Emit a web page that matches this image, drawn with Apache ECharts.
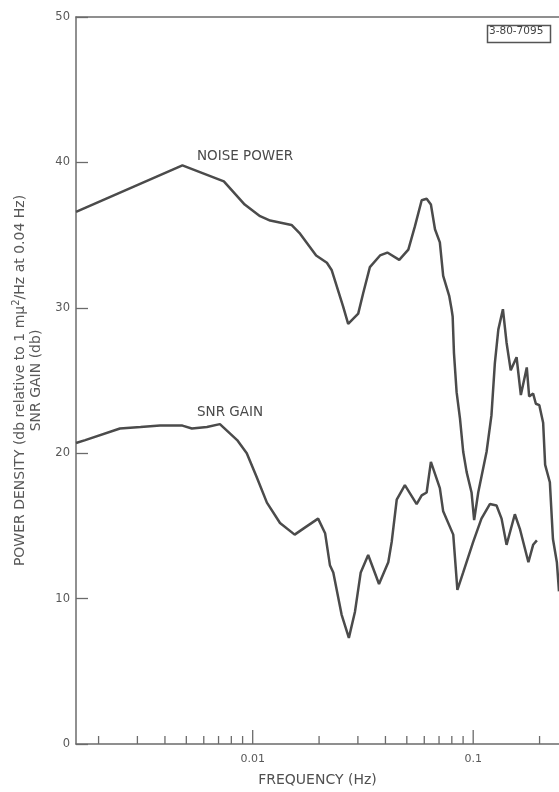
<!DOCTYPE html>
<html>
<head>
<meta charset="utf-8">
<script src="https://cdn.jsdelivr.net/npm/echarts@6/dist/echarts.min.js"></script>
<style>
  html, body { margin: 0; padding: 0; background: #fff; }
  #chart { width: 559px; height: 792px; }
</style>
</head>
<body>
<div id="chart"></div>
<script>
// noise power curve: [frequency (Hz), db]
var noisePower = [
    [0.00158, 36.6], [0.0048, 39.8], [0.0074, 38.7], [0.0092, 37.1], [0.0108, 36.3],
    [0.012, 36.0], [0.015, 35.7], [0.0164, 35.1], [0.0194, 33.6], [0.0217, 33.1],
    [0.0228, 32.6], [0.0257, 30.1], [0.0271, 28.9], [0.0301, 29.6], [0.0317, 31.0],
    [0.034, 32.8], [0.0378, 33.6], [0.0408, 33.8], [0.0462, 33.3], [0.0508, 34.0],
    [0.0544, 35.6], [0.0584, 37.4], [0.0615, 37.5], [0.0643, 37.1], [0.0671, 35.4],
    [0.0706, 34.5], [0.0731, 32.2], [0.0779, 30.8], [0.0798, 29.9], [0.0807, 29.4],
    [0.0818, 26.9], [0.0841, 24.2], [0.0871, 22.4], [0.0901, 20.1], [0.0934, 18.7],
    [0.0983, 17.3], [0.101, 15.4], [0.1054, 17.3], [0.115, 20.1], [0.121, 22.6],
    [0.1254, 26.2], [0.13, 28.5], [0.1364, 29.9], [0.1417, 27.6], [0.148, 25.7],
    [0.1573, 26.6], [0.1645, 24.0], [0.175, 25.9], [0.1794, 23.9], [0.187, 24.1],
    [0.1924, 23.4], [0.1995, 23.3], [0.2076, 22.1], [0.212, 19.2], [0.2227, 18.0],
    [0.23, 14.1], [0.2396, 12.5], [0.245, 10.5]
];

// SNR gain curve: [frequency (Hz), db]
var snrGain = [
    [0.00158, 20.7], [0.00174, 20.9], [0.0025, 21.7], [0.0031, 21.8], [0.0038, 21.9],
    [0.0048, 21.9], [0.0053, 21.7], [0.0062, 21.8], [0.0071, 22.0], [0.0085, 20.9],
    [0.0094, 20.0], [0.0104, 18.4], [0.0116, 16.6], [0.0133, 15.2], [0.0155, 14.4],
    [0.0173, 14.9], [0.0198, 15.5], [0.0213, 14.5], [0.0224, 12.3], [0.0232, 11.8],
    [0.0253, 8.9], [0.0273, 7.3], [0.0291, 9.1], [0.0309, 11.8], [0.0334, 13.0],
    [0.0374, 11.0], [0.0412, 12.5], [0.0427, 13.9], [0.045, 16.8], [0.049, 17.8],
    [0.0554, 16.5], [0.0584, 17.1], [0.0615, 17.3], [0.0643, 19.4], [0.0706, 17.6],
    [0.0731, 16.0], [0.0812, 14.4], [0.0848, 10.6], [0.0901, 11.8], [0.1, 13.9],
    [0.109, 15.5], [0.119, 16.5], [0.1276, 16.4], [0.1345, 15.5], [0.1417, 13.7],
    [0.1545, 15.8], [0.1628, 14.8], [0.178, 12.5], [0.187, 13.7], [0.1945, 14.0]
];

// frequency axis ticks
var freqTicks = [0.002, 0.003, 0.004, 0.005, 0.006, 0.007, 0.008, 0.009, 0.01,
    0.02, 0.03, 0.04, 0.05, 0.06, 0.07, 0.08, 0.09, 0.1, 0.2];
var majorTicks = [0.01, 0.1];
var freqMin = 0.00158;
var freqMax = 0.245;

var lineColor = '#4b4b4b';
var axisColor = '#6b6b6b';
var textColor = '#585858';
var font = 'DejaVu Sans';

var chart = echarts.init(document.getElementById('chart'));
var option = {
    animation: false,
    backgroundColor: '#fff',
    grid: { left: 76, right: 0, top: 17, bottom: 46 },
    xAxis: [{
        type: 'log',
        min: freqMin,
        max: freqMax,
        position: 'bottom',
        name: 'FREQUENCY (Hz)',
        nameLocation: 'middle',
        nameGap: 29,
        nameTextStyle: { color: '#505050', fontSize: 14, fontFamily: font },
        axisLine: { lineStyle: { color: axisColor, width: 1.5 } },
        axisTick: { show: false },
        splitLine: { show: false },
        axisLabel: {
            showMinLabel: false,
            showMaxLabel: false,
            color: textColor,
            fontSize: 11,
            fontFamily: font,
            margin: 10
        }
    }, {
        // top frame line
        type: 'value',
        position: 'top',
        min: 0,
        max: 1,
        axisLine: { show: true, lineStyle: { color: axisColor, width: 1.5 } },
        axisTick: { show: false },
        axisLabel: { show: false },
        splitLine: { show: false }
    }],
    yAxis: {
        type: 'value',
        min: 0,
        max: 50,
        interval: 10,
        name: 'POWER DENSITY (db relative to 1 mμ{sup|2}/Hz at 0.04 Hz)\nSNR GAIN (db)',
        nameLocation: 'middle',
        nameRotate: 90,
        nameGap: 32,
        nameTextStyle: {
            color: textColor,
            fontSize: 14,
            fontFamily: font,
            lineHeight: 16,
            rich: {
                sup: { fontSize: 10, fontFamily: font, color: textColor, padding: [0, 0, 8, 0] }
            }
        },
        axisLine: { show: true, lineStyle: { color: axisColor, width: 1.5 } },
        axisTick: { show: true, inside: true, length: 12, lineStyle: { color: axisColor, width: 1.3 } },
        splitLine: { show: false },
        axisLabel: { color: textColor, fontSize: 11.5, fontFamily: font, margin: 6 }
    },
    graphic: [
        {
            type: 'text', left: 197, top: 149,
            style: { text: 'NOISE POWER', fill: '#4a4a4a', font: '13.5px "DejaVu Sans"' }
        },
        {
            type: 'text', left: 197, top: 405,
            style: { text: 'SNR GAIN', fill: '#4a4a4a', font: '13.5px "DejaVu Sans"' }
        },
        {
            type: 'rect', left: 485, top: 23,
            shape: { width: 63, height: 17 },
            style: { fill: 'none', stroke: '#555', lineWidth: 1.5 }
        },
        {
            type: 'text', left: 489, top: 26,
            style: { text: '3-80-7095', fill: '#444', font: '10.5px "DejaVu Sans"' }
        }
    ],
    series: [
        {
            name: 'NOISE POWER',
            type: 'line',
            data: noisePower,
            showSymbol: false,
            lineStyle: { color: lineColor, width: 2.5 }
        },
        {
            name: 'SNR GAIN',
            type: 'line',
            data: snrGain,
            showSymbol: false,
            lineStyle: { color: lineColor, width: 2.5 }
        },
        {
            // frequency tick marks drawn through the log scale
            name: 'ticks',
            type: 'custom',
            data: freqTicks.map(function (f) { return [f, 0]; }),
            renderItem: function (params, api) {
                var f = api.value(0);
                var p = api.coord([f, 0]);
                var len = majorTicks.indexOf(f) >= 0 ? 14 : 8;
                return {
                    type: 'line',
                    shape: { x1: p[0], y1: p[1], x2: p[0], y2: p[1] - len },
                    style: { stroke: axisColor, lineWidth: 1.3 }
                };
            },
            silent: true,
            z: 3
        }
    ]
};
chart.setOption(option);
</script>
</body>
</html>
